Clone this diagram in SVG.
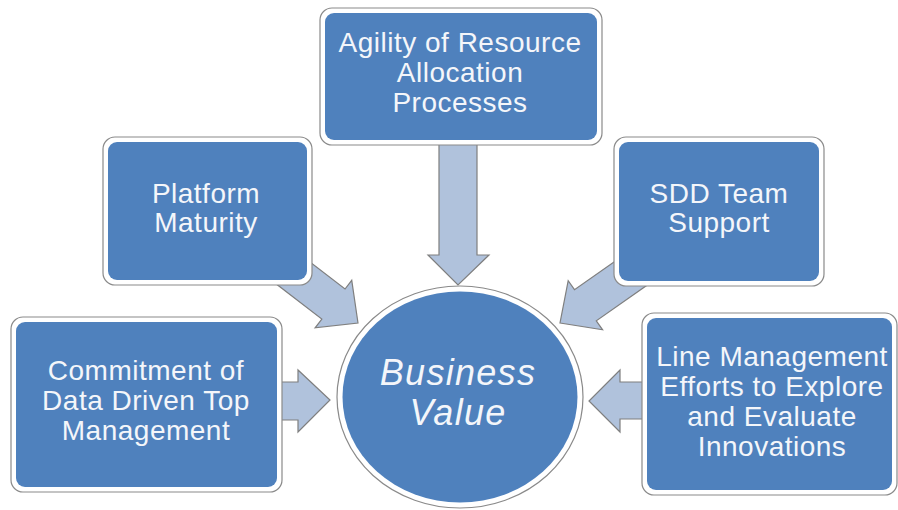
<svg xmlns="http://www.w3.org/2000/svg" width="898" height="510" viewBox="0 0 898 510">
<defs>
<style>
.frame{fill:#ffffff;stroke:#8a8a8a;stroke-width:1.2}
.fill{fill:#4F81BD}
.arrow{fill:#B0C2DC;stroke:#7f7f7f;stroke-width:1.2;stroke-linejoin:miter}
.t{font-family:"Liberation Sans",Arial,sans-serif;font-size:28px;letter-spacing:0.5px;fill:#F4F6FA;text-anchor:middle}
.c{font-family:"Liberation Sans",Arial,sans-serif;font-size:36px;letter-spacing:1.3px;font-style:italic;fill:#F4F6FA;text-anchor:middle}
</style>
<polygon id="diag" points="0,0 -31,-30 -31,-19 -95,-19 -95,19 -31,19 -31,30"/>
</defs>
<rect width="898" height="510" fill="#ffffff"/>
<g id="connectors">
<polygon class="arrow" points="439,140 477,140 477,255 489,255 458,285 428,255 439,255"/>
<polygon class="arrow" points="270,382 298,382 298,370 330,400 298,432 298,420 270,420"/>
<polygon class="arrow" points="650,382 620,382 620,370 589,401 620,432 620,419 650,419"/>
<use href="#diag" class="arrow" transform="translate(358,323) rotate(37.6)"/>
<use href="#diag" class="arrow" transform="translate(560,323) rotate(145)"/>
</g>
<g id="node-agility">
<rect class="frame" x="320" y="8" width="282" height="137" rx="12"/>
<rect class="fill" x="325" y="13" width="272" height="127" rx="9"/>
<text class="t" x="460" y="52">Agility of Resource</text>
<text class="t" x="460" y="82">Allocation</text>
<text class="t" x="460" y="112">Processes</text>
</g>
<g id="node-platform">
<rect class="frame" x="103" y="137" width="209" height="148" rx="12"/>
<rect class="fill" x="108" y="142" width="199" height="138" rx="9"/>
<text class="t" x="206" y="203">Platform</text>
<text class="t" x="206" y="232">Maturity</text>
</g>
<g id="node-sdd">
<rect class="frame" x="614" y="137" width="210" height="149" rx="12"/>
<rect class="fill" x="619" y="142" width="200" height="139" rx="9"/>
<text class="t" x="719" y="203">SDD Team</text>
<text class="t" x="719" y="232">Support</text>
</g>
<g id="node-commitment">
<rect class="frame" x="11" y="317" width="271" height="175" rx="12"/>
<rect class="fill" x="16" y="322" width="261" height="165" rx="9"/>
<text class="t" x="146" y="380">Commitment of</text>
<text class="t" x="146" y="410">Data Driven Top</text>
<text class="t" x="146" y="440">Management</text>
</g>
<g id="node-line">
<rect class="frame" x="642" y="313" width="255" height="182" rx="12"/>
<rect class="fill" x="647" y="318" width="245" height="172" rx="9"/>
<text class="t" x="772" y="366">Line Management</text>
<text class="t" x="772" y="396">Efforts to Explore</text>
<text class="t" x="772" y="426">and Evaluate</text>
<text class="t" x="772" y="456">Innovations</text>
</g>
<g id="node-business">
<ellipse class="frame" cx="460" cy="397" rx="123" ry="111"/>
<ellipse class="fill" cx="460" cy="397" rx="117.5" ry="105.5"/>
<text class="c" x="458" y="385">Business</text>
<text class="c" x="458" y="425">Value</text>
</g>
</svg>
